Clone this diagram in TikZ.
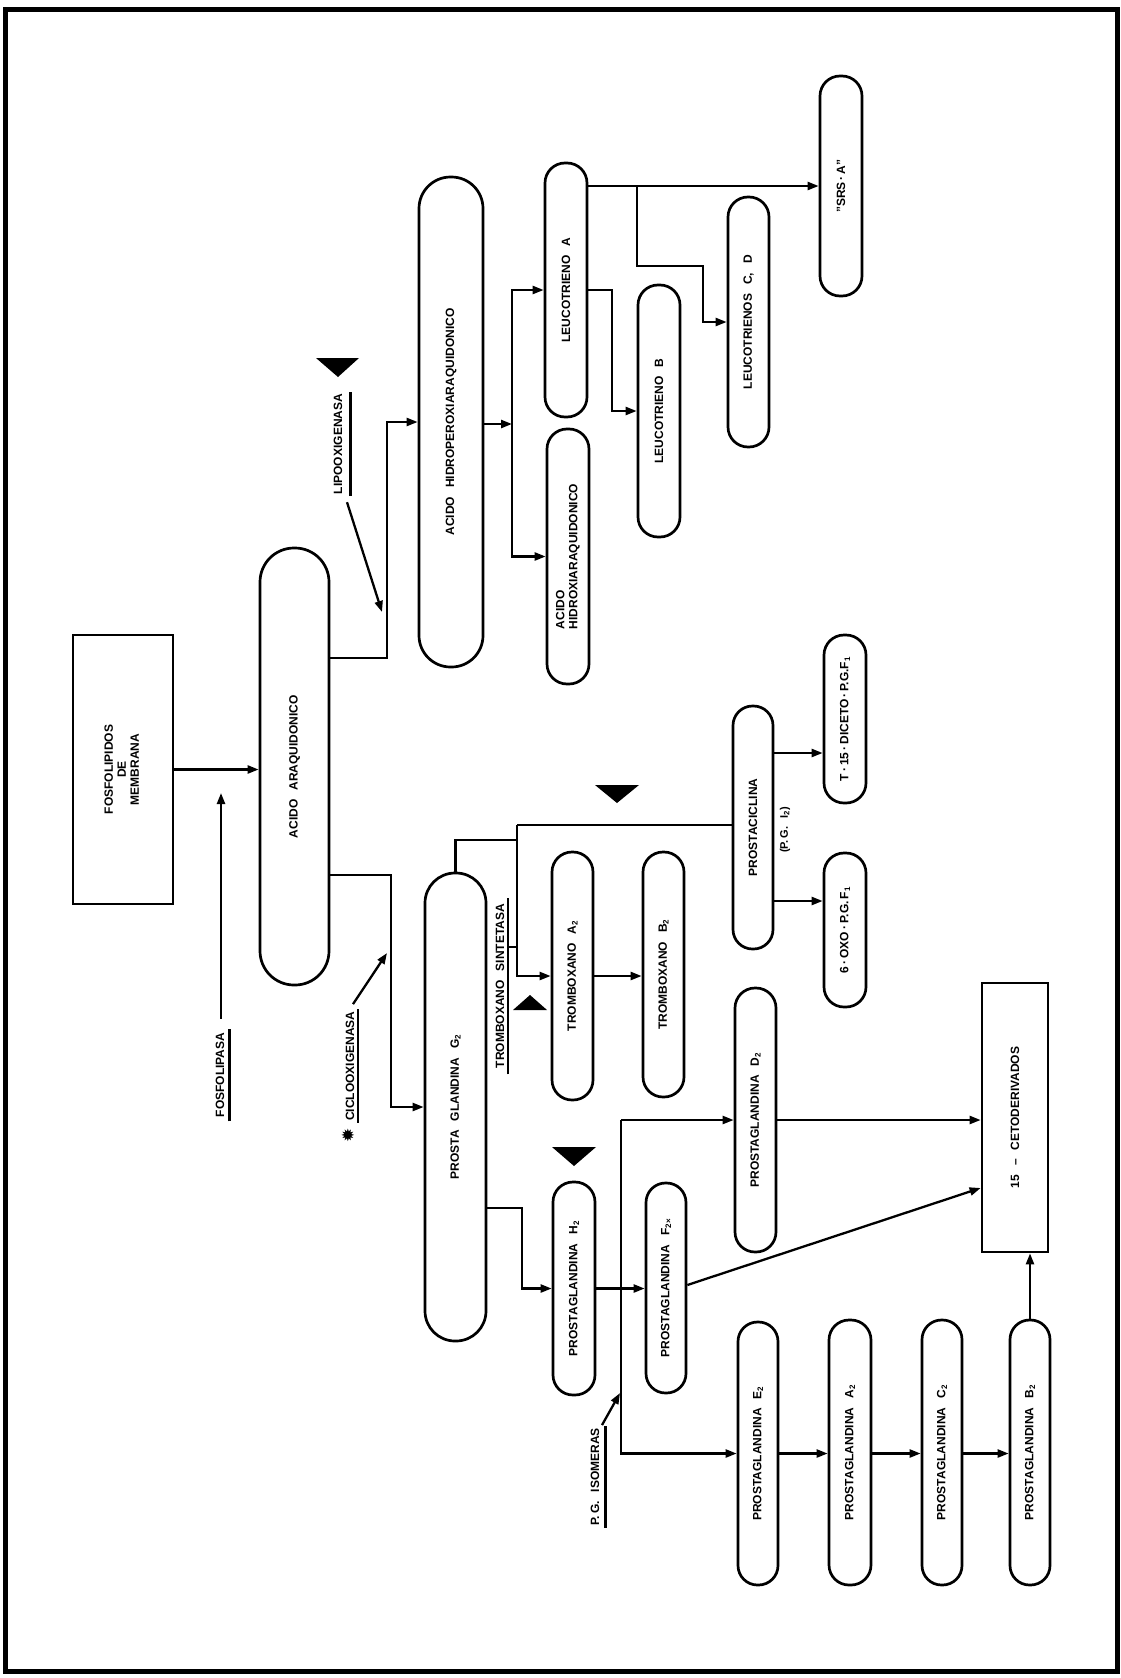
\documentclass[tikz,border=0pt]{standalone}
\usepackage{fontspec}
\usepackage{graphicx}
\setmainfont{Liberation Sans}
\newfontfamily\dejavu{DejaVu Sans}
\usetikzlibrary{arrows.meta}
\newcommand\gp{\hspace{0.75em}}
\newcommand\sub[1]{\textsubscript{#1}}
\tikzset{
  every node/.style={font=\fontsize{12}{14}\selectfont\bfseries},
  pill/.style={draw, line width=2.7pt, inner sep=0pt, rounded corners=20pt, minimum width=41pt},
  boxn/.style={draw, line width=2.7pt, inner sep=0pt},
  lbl/.style={inner sep=2pt},
  conn/.style={line width=2.3pt},
  arr/.style={line width=2.3pt, -{Triangle[length=11pt,width=8pt]}},
  ul/.style={line width=2.6pt},
  trimark/.style={fill=black}
}
\begin{document}
\begin{tikzpicture}[x=1pt,y=-1pt]
\useasboundingbox (0,0) rectangle (1121,1678);
\draw[line width=5pt] (5,10) rectangle (1117,1671);

% ---- nodes ----
\node[boxn, minimum width=100pt, minimum height=269pt] (fosfo) at (123,769.5)
  {\rotatebox{90}{\begin{tabular}{@{}c@{}}FOSFOLIPIDOS\\[-1pt]DE\\[-1pt]MEMBRANA\end{tabular}}};
\node[pill, minimum width=69pt, minimum height=437pt, rounded corners=34pt] (acidoA) at (294.5,766.5)
  {\rotatebox{90}{ACIDO\gp ARAQUIDONICO}};
\node[pill, minimum width=64pt, minimum height=490pt, rounded corners=31.5pt] (hidroper) at (451,422)
  {\rotatebox{90}{ACIDO\gp HIDROPEROXIARAQUIDONICO}};
\node[pill, minimum width=42pt, minimum height=254pt] (leucA) at (566,290)
  {\rotatebox{90}{LEUCOTRIENO\gp A}};
\node[pill, minimum width=42pt, minimum height=255pt] (hidroxi) at (568,556.5)
  {\rotatebox{90}{\begin{tabular}{@{}l@{}}ACIDO\\[-1pt]HIDROXIARAQUIDONICO\end{tabular}}};
\node[pill, minimum width=42pt, minimum height=252pt] (leucB) at (659,411)
  {\rotatebox{90}{LEUCOTRIENO\gp B}};
\node[pill, minimum width=41pt, minimum height=250pt] (leucCD) at (748.5,322)
  {\rotatebox{90}{LEUCOTRIENOS\gp C,\gp D}};
\node[pill, minimum width=42pt, minimum height=220pt] (srsa) at (841,186)
  {\rotatebox{90}{"SRS\,·\,A"}};
\node[pill, minimum width=61pt, minimum height=468pt, rounded corners=30pt] (pgG2) at (455.5,1107)
  {\rotatebox{90}{PROSTA\gp GLANDINA\gp G\sub{2}}};
\node[pill, minimum width=41pt, minimum height=248pt] (txA2) at (572.5,976)
  {\rotatebox{90}{TROMBOXANO\gp A\sub{2}}};
\node[pill, minimum width=41pt, minimum height=245pt] (txB2) at (663.5,974.5)
  {\rotatebox{90}{TROMBOXANO\gp B\sub{2}}};
\node[pill, minimum width=40pt, minimum height=243pt, rounded corners=19.5pt] (prostaciclina) at (753,827.5)
  {\rotatebox{90}{PROSTACICLINA}};
\node[lbl, font=\fontsize{11}{12}\selectfont\bfseries] (pgi2) at (785,830)
  {\rotatebox{90}{(P.\,G.\gp I\sub{2})}};
\node[pill, minimum width=42pt, minimum height=168pt] (t15) at (845,719)
  {\rotatebox{90}{T\,·\,15\,·\,DICETO\,·\,P.G.F\sub{1}}};
\node[pill, minimum width=42pt, minimum height=154pt] (oxo) at (845,930)
  {\rotatebox{90}{6\,·\,OXO\,·\,P.G.\,F\sub{1}}};
\node[pill, minimum width=41pt, minimum height=264pt] (pgD2) at (755.5,1120)
  {\rotatebox{90}{PROSTAGLANDINA\gp D\sub{2}}};
\node[boxn, minimum width=66pt, minimum height=269pt] (ceto) at (1015,1117.5)
  {\rotatebox{90}{15\gp --\gp CETODERIVADOS}};
\node[pill, minimum width=42pt, minimum height=213pt] (pgH2) at (574,1288.5)
  {\rotatebox{90}{PROSTAGLANDINA\gp H\sub{2}}};
\node[pill, minimum width=40pt, minimum height=210pt, rounded corners=19.5pt] (pgF2) at (666,1288)
  {\rotatebox{90}{PROSTAGLANDINA\gp F\sub{2×}}};
\node[pill, minimum width=40pt, minimum height=263pt, rounded corners=19.5pt] (pgE2) at (758,1453.5)
  {\rotatebox{90}{PROSTAGLANDINA\gp E\sub{2}}};
\node[pill, minimum width=42pt, minimum height=265pt] (pgA2) at (850,1452.5)
  {\rotatebox{90}{PROSTAGLANDINA\gp A\sub{2}}};
\node[pill, minimum width=40pt, minimum height=265pt, rounded corners=19.5pt] (pgC2) at (942,1452.5)
  {\rotatebox{90}{PROSTAGLANDINA\gp C\sub{2}}};
\node[pill, minimum width=40pt, minimum height=265pt, rounded corners=19.5pt] (pgB2) at (1030,1452.5)
  {\rotatebox{90}{PROSTAGLANDINA\gp B\sub{2}}};

% ---- enzyme labels ----
\node[lbl] (fosfolipasa) at (220,1075) {\rotatebox{90}{FOSFOLIPASA}};
\draw[ul] ([xshift=3pt,yshift=-2pt]fosfolipasa.south east) -- ([xshift=3pt,yshift=2pt]fosfolipasa.north east);
\node[lbl] (lipo) at (338,444) {\rotatebox{90}{LIPOOXIGENASA}};
\draw[ul] ([xshift=6pt]lipo.south east) -- ([xshift=6pt]lipo.north east);
\node[lbl] (ciclo) at (350,1066) {\rotatebox{90}{CICLOOXIGENASA}};
\draw[ul] ([xshift=1.5pt]ciclo.south east) -- ([xshift=1.5pt]ciclo.north east);
\node[inner sep=0pt, font=\dejavu\fontsize{17}{17}\selectfont] (aster) at (348,1135) {\rotatebox{90}{✹}};
\node[lbl] (txsint) at (500,986) {\rotatebox{90}{TROMBOXANO\gp SINTETASA}};
\draw[ul] ([xshift=1.5pt,yshift=-4pt]txsint.south east) -- ([xshift=1.5pt,yshift=4pt]txsint.north east);
\node[lbl] (isomeras) at (595,1477) {\rotatebox{90}{P.\,G.\gp ISOMERAS}};
\draw[ul] ([xshift=4pt]isomeras.south east) -- ([xshift=4pt]isomeras.north east);

% ---- markers ----
\fill[trimark] (316,358) -- (359,358) -- (338,377) -- cycle;
\fill[trimark] (595,785) -- (639,785) -- (617,803) -- cycle;
\fill[trimark] (513,1010) -- (547,1010) -- (530,995) -- cycle;
\fill[trimark] (552,1147) -- (596,1147) -- (574,1166) -- cycle;

% ---- coordinates ----
\coordinate (fosTip) at (221,793);
\coordinate (j1) at (387,658);
\coordinate (lipoTip) at (382,612);
\coordinate (j2) at (391,875);
\coordinate (cicloTip) at (387,953);
\coordinate (j3) at (512,424);
\coordinate (j4) at (612,290);
\coordinate (j5) at (637,186);
\coordinate (j6) at (637,266);
\coordinate (j7) at (703,266);
\coordinate (j8) at (517,825);
\coordinate (j9) at (517,840);
\coordinate (j10) at (517,976);
\coordinate (j11) at (522,1208);
\coordinate (j12) at (621,1120);
\coordinate (isoTip) at (620,1393);

% ---- connectors ----
\draw[arr] (fosfo.east) -- (fosfo.east -| acidoA.west);
\draw[arr] ([shift={(1,-12)}]fosfolipasa.north) -- (fosTip);
\draw[arr] (acidoA.east |- j1) -- (j1) |- (hidroper.west);
\draw[arr] ([shift={(9,6)}]lipo.south) -- (lipoTip);
\draw[arr] (acidoA.east |- j2) -- (j2) |- (pgG2.west);
\draw[arr] ([shift={(3,-5)}]ciclo.north) -- (cicloTip);
\draw[arr] (hidroper.east |- j3) -- (j3);
\draw[arr] (j3) |- (leucA.west);
\draw[arr] (j3) |- (hidroxi.west);
\draw[arr] (leucA.east) -- (j4) |- (leucB.west);
\draw[arr] (leucA.east |- srsa.west) -- (srsa.west);
\draw[arr] (j5) -- (j6) -- (j7) |- (leucCD.west);
\draw[conn] (pgG2.north) |- (j9);
\draw[conn] (j8) -- (j8 -| prostaciclina.west);
\draw[arr] (j8) -- (j10) -- (j10 -| txA2.west);
\draw[conn] ([xshift=-9pt]j8 |- 0,947) -- (j8 |- 0,947);
\draw[arr] (txA2.east |- j10) -- (j10 -| txB2.west);
\draw[arr] (prostaciclina.east |- 0,753) -- (t15.west |- 0,753);
\draw[arr] (prostaciclina.east |- 0,901) -- (oxo.west |- 0,901);
\draw[arr] (pgG2.east |- j11) -- (j11) |- (pgH2.west);
\draw[arr] (pgH2.east) -- (pgH2.east -| pgF2.west);
\draw[arr] (j12) -- (j12 -| pgD2.west);
\draw[arr] (j12) |- (pgE2.west);
\draw[arr] ([shift={(7,-1)}]isomeras.north) -- (isoTip);
\draw[arr] (pgD2.east) -- (pgD2.east -| ceto.west);
\draw[arr] (pgF2.east |- 0,1285) -- (ceto.west |- 0,1188);
\draw[arr] (pgE2.east) -- (pgE2.east -| pgA2.west);
\draw[arr] (pgE2.east -| pgA2.east) -- (pgE2.east -| pgC2.west);
\draw[arr] (pgE2.east -| pgC2.east) -- (pgE2.east -| pgB2.west);
\draw[arr] (pgB2.north) -- (pgB2.north |- ceto.south);
\end{tikzpicture}
\end{document}
